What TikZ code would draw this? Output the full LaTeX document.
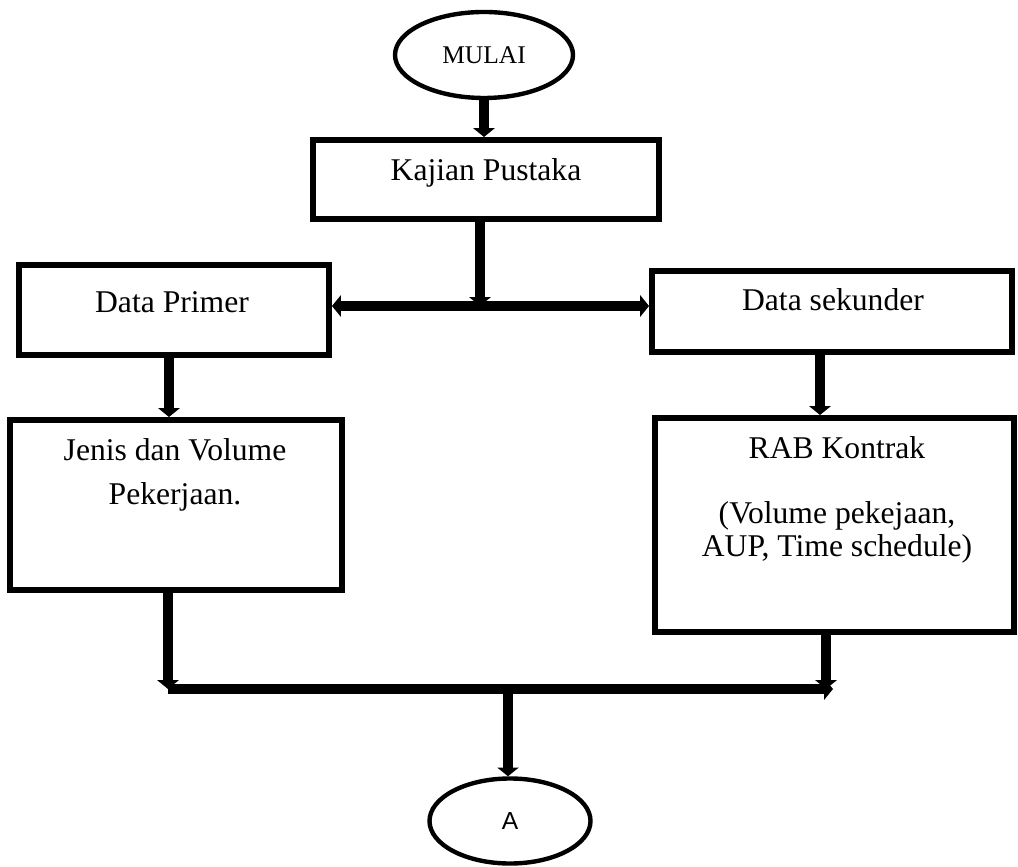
\documentclass[tikz,border=0pt]{standalone}
\usepackage{fontspec}
\setmainfont{Liberation Serif}
\newfontfamily\arialA{Liberation Sans}
\usetikzlibrary{arrows.meta, shapes.geometric}

\begin{document}
\begin{tikzpicture}[
  kotak/.style={draw, line width=3.4pt, rectangle, inner sep=0pt},
  oval/.style={draw, line width=2.5pt, ellipse, inner sep=0pt},
  teks/.style={font=\fontsize{18}{19}\selectfont, align=center},
  panah/.style={line width=5.7pt, -{Triangle[width=12pt,length=5pt]}},
  panahdua/.style={line width=5.7pt, {Triangle[width=12pt,length=5pt]}-{Triangle[width=12pt,length=5pt]}}]
  \useasboundingbox (0,0) rectangle (20.36,17.32);
  % mulai dan kajian pustaka
  \node[oval, minimum width=3.56cm, minimum height=1.72cm, font=\fontsize{14.5}{16}\selectfont] (mulai) at (9.68,16.22) {MULAI};
  \node[kotak, minimum width=6.92cm, minimum height=1.58cm] (kajian) at (9.72,13.73) {};
  \node[teks] (kajian-t) at (9.72,13.86) {Kajian Pustaka};
  % data
  \node[kotak, minimum width=6.20cm, minimum height=1.80cm] (primer) at (3.48,11.12) {};
  \node[teks] (primer-t) at (3.44,11.28) {Data Primer};
  \node[kotak, minimum width=7.20cm, minimum height=1.62cm] (sekunder) at (16.64,11.09) {};
  \node[teks] (sekunder-t) at (16.66,11.32) {Data sekunder};
  \node[kotak, minimum width=6.64cm, minimum height=3.40cm] (jenis) at (3.52,7.22) {};
  \node[teks] (jenis-t) at (3.50,7.82) {Jenis dan Volume\\[6pt]Pekerjaan.};
  \node[kotak, minimum width=7.18cm, minimum height=4.28cm] (rab) at (16.69,6.82) {};
  \node[teks] (rab-t) at (16.74,7.32) {RAB Kontrak\\[18pt](Volume pekejaan,\\AUP, Time schedule)};
  % akhir
  \node[oval, minimum width=3.22cm, minimum height=1.70cm, font=\arialA\fontsize{14}{16}\selectfont] (a) at (10.20,0.90) {A};
  \coordinate (cabang) at (9.60,11.20);
  \coordinate (gabung) at (10.16,3.54);
  \coordinate (ujung) at (16.66,3.54);
  % panah
  \draw[panah] (mulai.south) -- (mulai.south |- kajian.north);
  \draw[panah] (kajian.south -| cabang) -- (cabang);
  \draw[panahdua] (cabang -| primer.east) -- (cabang -| sekunder.west);
  \draw[panah] ([xshift=-0.1cm]primer.south) -- ([xshift=-0.1cm]primer.south |- jenis.north);
  \draw[panah] ([xshift=-0.24cm]sekunder.south) -- ([xshift=-0.24cm]sekunder.south |- rab.north);
  \draw[panah] ([xshift=-0.16cm]jenis.south) -- ([xshift=-0.16cm]jenis.south |- gabung);
  \draw[panah] ([xshift=-0.17cm]rab.south) -- ([xshift=-0.17cm]rab.south |- gabung);
  \draw[panah] ([xshift=-0.16cm]jenis.south |- gabung) -- (ujung);
  \draw[panah] (gabung) -- (gabung |- a.north);
\end{tikzpicture}
\end{document}
